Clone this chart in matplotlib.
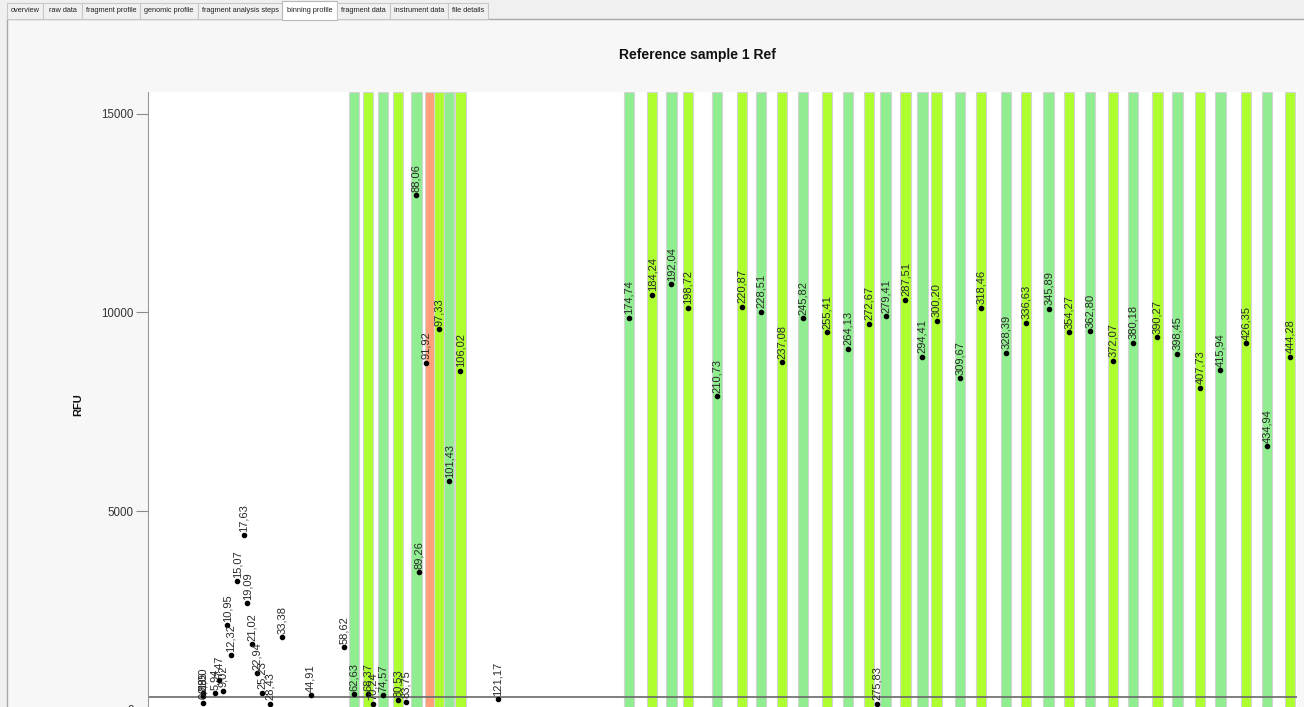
import matplotlib
matplotlib.use("Agg")
import matplotlib.pyplot as plt
from matplotlib.patches import Rectangle

plt.rcParams['font.family'] = ['Liberation Sans', 'DejaVu Sans']

# ---- data -------------------------------------------------------------
tab_names = ['overview', 'raw data', 'fragment profile', 'genomic profile',
             'fragment analysis steps', 'binning profile', 'fragment data',
             'instrument data', 'file details']
active_tab = 'binning profile'

title = 'Reference sample 1 Ref'
y_label = 'RFU'
y_ticks = [0, 5000, 10000, 15000]
threshold_rfu = 320

# fragment sizes (bp) and peak heights (RFU)
peak_sizes = [0.88, 0.95, 1.00, 5.94, 7.47, 9.02, 10.95, 12.32, 15.07, 17.63,
              19.09, 21.02, 22.94, 25.23, 28.43, 33.38, 44.91, 58.62, 62.63,
              68.37, 70.24, 74.57, 80.53, 83.75, 88.06, 89.26, 91.92, 97.33,
              101.43, 106.02, 121.17,
              174.74, 184.24, 192.04, 198.72, 210.73, 220.87, 228.51, 237.08,
              245.82, 255.41, 264.13, 272.67, 275.83, 279.41, 287.51, 294.41,
              300.20, 309.67, 318.46, 328.39, 336.63, 345.89, 354.27, 362.80,
              372.07, 380.18, 390.27, 398.45, 407.73, 415.94, 426.35, 434.94,
              444.28]
peak_rfu = [170, 330, 420, 408, 740, 474, 2128, 1365, 3237, 4395,
            2675, 1650, 912, 423, 150, 1819, 365, 1567, 383,
            380, 150, 365, 240, 197, 12960, 3456, 8736, 9577,
            5756, 8534, 264,
            9870, 10450, 10710, 10120, 7890, 10150, 10020, 8750,
            9850, 9500, 9090, 9720, 140, 9910, 10320, 8890,
            9790, 8340, 10120, 8990, 9740, 10100, 9500, 9530,
            8780, 9240, 9380, 8960, 8100, 8540, 9220, 6630,
            8880]

# reference bins (bp); False marks a bin without a matching peak
bin_centers = [62.63, 68.37, 74.57, 80.53, 88.06, 93.60, 97.33, 101.43, 106.02,
               174.74, 184.24, 192.04, 198.72, 210.73, 220.87, 228.51, 237.08,
               245.82, 255.41, 264.13, 272.67, 279.41, 287.51, 294.41, 300.20,
               309.67, 318.46, 328.39, 336.63, 345.89, 354.27, 362.80, 372.07,
               380.18, 390.27, 398.45, 407.73, 415.94, 426.35, 434.94, 444.28]
bin_ok = [True] * len(bin_centers)
bin_ok[5] = False
bin_width = 4.2

# ---- figure frame -----------------------------------------------------
W, H = 1304, 707
fig = plt.figure(figsize=(W / 100, H / 100), dpi=100)
fig.patch.set_facecolor('#f0f0f0')

def px_box(x0, y0, x1, y1, **kw):
    fig.add_artist(Rectangle((x0 / W, 1 - y1 / H), (x1 - x0) / W, (y1 - y0) / H,
                             transform=fig.transFigure, zorder=-5, **kw))

# panel under the tabs
px_box(7, 19, W + 5, H + 5, facecolor='#f7f7f7', edgecolor='#a8a8a8', lw=1)

# tab strip
tab_edges = [7, 43, 82, 140, 198, 282, 337, 390, 448, 488]
for name, x0, x1 in zip(tab_names, tab_edges[:-1], tab_edges[1:]):
    if name == active_tab:
        px_box(x0, 1, x1, 20, facecolor='white', edgecolor='#b8b8b8', lw=0.8)
    else:
        px_box(x0, 3, x1, 19, facecolor='#f0f0f0', edgecolor='#c8c8c8', lw=0.8)
    fig.text((x0 + x1) / 2 / W, 1 - 11 / H, name, fontsize=5.3, color='#222222',
             ha='center', va='center')

fig.text(697 / W, 1 - 55 / H, title, fontsize=10, fontweight='bold',
         ha='center', va='center', color='#111111')
fig.text(78 / W, 1 - 405 / H, y_label, fontsize=8, fontweight='bold',
         rotation=90, ha='center', va='center', color='#111111')

# ---- plot area --------------------------------------------------------
ax = fig.add_axes([148 / W, 1 - 740 / H, (1297 - 148) / W, (740 - 92) / H])
ax.set_zorder(2)
ax.set_facecolor('white')
ax.set_xlim(-21.4, 447.2)
ax.set_ylim(-768, 15554)

i = 0
for c, ok in zip(bin_centers, bin_ok):
    if ok:
        col = '#90EE90' if i % 2 == 0 else '#ADFF2F'
        i += 1
    else:
        col = '#FFA07A'
    ax.axvspan(c - bin_width / 2, c + bin_width / 2, facecolor=col,
               edgecolor='#d4d4d4', lw=0.8, zorder=1)

ax.axhline(threshold_rfu, color='#6a6a6a', lw=1.2, zorder=2)

ax.plot(peak_sizes, peak_rfu, 'o', ms=3, color='black', zorder=3)
for s, r in zip(peak_sizes, peak_rfu):
    ax.annotate(f'{s:.2f}'.replace('.', ','), (s, r), xytext=(0, 2.5),
                textcoords='offset points', rotation=90, ha='center',
                va='bottom', fontsize=8, color='#2a2a2a', zorder=4)

for side in ['top', 'right', 'bottom']:
    ax.spines[side].set_visible(False)
ax.spines['left'].set_color('#9a9a9a')
ax.set_xticks([])
ax.set_yticks(y_ticks)
ax.set_yticklabels([str(t) for t in y_ticks])
ax.tick_params(axis='y', direction='out', length=8.6, color='#8a8a8a',
               labelsize=8.3, labelcolor='#333333', pad=1.5)

fig.savefig('out.png', dpi=100)
